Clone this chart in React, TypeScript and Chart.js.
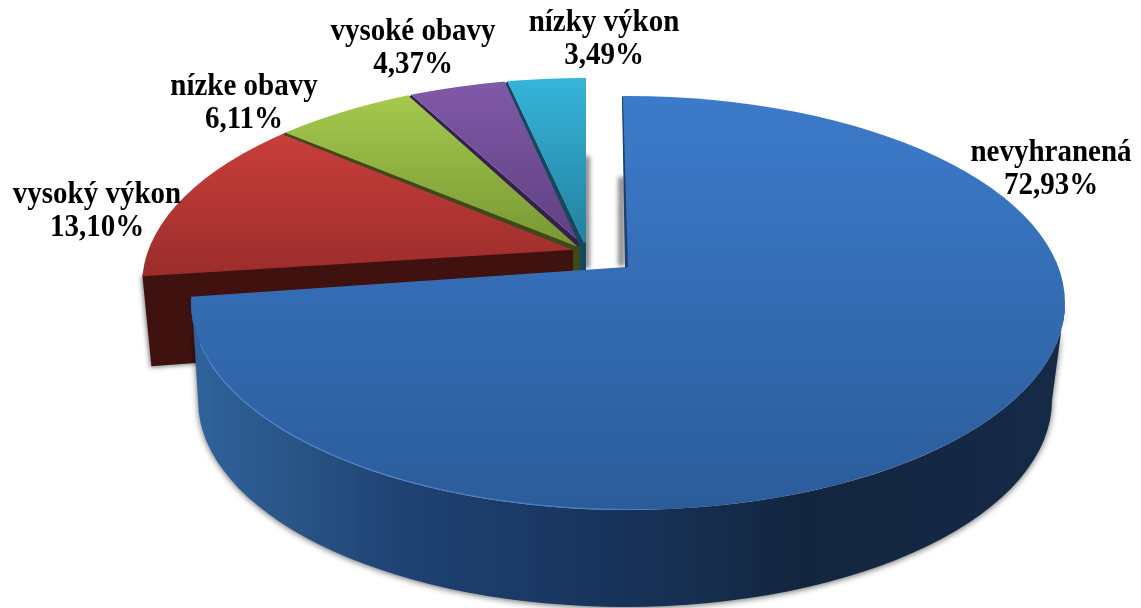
import React, { useEffect, useRef } from "react";
import { Chart, ArcElement, PieController } from "chart.js";

Chart.register(ArcElement, PieController);

const categories = ["nevyhranená", "vysoký výkon", "nízke obavy", "vysoké obavy", "nízky výkon"];
const shares = [72.93, 13.1, 6.11, 4.37, 3.49];

const W = 1141;
const H = 608;
const SX = 2.3;
const SY = 2.3 * 0.47;
const faceTop = ["#3C7BCB", "#C83E3B", "#A3C84C", "#8059A8", "#36B5DA"];
const faceBottom = ["#2B5C9A", "#9B2D2B", "#789834", "#5E4080", "#22809E"];
const gradY = [[97, 510], [137, 275], [100, 245], [82, 245], [78, 245]];
const bandColors = ["", "", "#3A4A18", "#35204F", "#14485C"];
const labelPos = [[1051, 153], [97, 195], [244, 87], [413, 32], [604, 23]];

const bigLayout = { ax: 627, ay: 267, cx: 628, cy: 303, a: 437, b: 207, shear: 0.058 };
const smallLayout = { ax: 586, ay: 247, cx: 586, cy: 285, a: 444, b: 207, shear: 0 };
const redLayout = { ...smallLayout, ay: 249 };
const greenLayout = { ...smallLayout, ay: 250 };
const layouts = [bigLayout, redLayout, greenLayout, smallLayout, smallLayout];
const layoutOf = (i: number) => layouts[i];

function edgePoint(angle: number, l: any) {
  const dx = Math.cos(angle) * SX + l.shear * Math.sin(angle) * SY;
  const dy = Math.sin(angle) * SY;
  const px = (l.ax - l.cx) / l.a, py = (l.ay - l.cy) / l.b;
  const qx = dx / l.a, qy = dy / l.b;
  const A = qx * qx + qy * qy;
  const B = 2 * (px * qx + py * qy);
  const C = px * px + py * py - 1;
  const t = (-B + Math.sqrt(B * B - 4 * A * C)) / (2 * A);
  return [l.ax + dx * t, l.ay + dy * t];
}

function poly(ctx: CanvasRenderingContext2D, pts: number[][], fill: any) {
  ctx.beginPath();
  pts.forEach((p, i) => (i ? ctx.lineTo(p[0], p[1]) : ctx.moveTo(p[0], p[1])));
  ctx.closePath();
  ctx.fillStyle = fill;
  ctx.fill();
}

function sideShadow(ctx: CanvasRenderingContext2D, x: number, y0: number, w: number, y1: number) {
  ctx.save();
  ctx.filter = "blur(2px)";
  ctx.fillStyle = "rgba(105,105,105,0.75)";
  ctx.fillRect(x, y0, w, y1 - y0);
  ctx.restore();
}

function drawFace(ctx: CanvasRenderingContext2D, elem: any, i: number) {
  const l = layoutOf(i);
  ctx.save();
  ctx.beginPath();
  ctx.ellipse(l.cx, l.cy, l.a, l.b, 0, 0, Math.PI * 2);
  ctx.clip();
  const mid = (elem.startAngle + elem.endAngle) / 2;
  const off = (i === 0 ? elem.options.offset : 0) / 4;
  const ou = Math.cos(mid) * off, ov = Math.sin(mid) * off;
  ctx.translate(l.ax - SX * ou - l.shear * SY * ov, l.ay - SY * ov);
  ctx.transform(SX, 0, l.shear * SY, SY, 0, 0);
  ctx.translate(-elem.x, -elem.y);
  elem.draw(ctx);
  ctx.restore();
}

const tiltPlugin = {
  id: "tilt",
  beforeDatasetsDraw(chart: any) {
    const ctx: CanvasRenderingContext2D = chart.ctx;
    const arcs = chart.getDatasetMeta(0).data;
    const big = bigLayout, small = smallLayout, red = redLayout;

    sideShadow(ctx, 583, 156, 7, 268);
    sideShadow(ctx, 618, 177, 7, 266);

    // exposed wall of the first small slice
    const p = edgePoint(arcs[1].startAngle, red);
    const t = red.ay - 13 * Math.tan(arcs[1].startAngle) * (SY / SX);
    ctx.save();
    ctx.shadowColor = "rgba(0,0,0,0.55)";
    ctx.shadowBlur = 5;
    ctx.shadowOffsetX = -1;
    ctx.shadowOffsetY = 1;
    poly(ctx, [[p[0], p[1] - 1], [red.ax - 13, t - 1], [red.ax - 13, t + 85], [p[0] + 9, p[1] + 90]], "#3F1210");
    ctx.restore();

    // small slice faces and their radial edges
    for (let i = 1; i < arcs.length; i++) {
      if (i > 1) {
        const l = layoutOf(i);
        const q = edgePoint(arcs[i].startAngle, l);
        if (i === 4) poly(ctx, [[q[0] - 6, q[1] - 4], [q[0] + 2, q[1] - 4], [q[0] + 3, q[1] + 8]], "#fff");
        poly(ctx, [q, [l.ax, l.ay], [l.ax - 4, l.ay + 3.5], [q[0] - 2, q[1] + 2]], bandColors[i]);
      }
      drawFace(ctx, arcs[i], i);
    }
    poly(ctx, [[small.ax - 13, small.ay + 1], [small.ax - 6, small.ay - 2], [small.ax - 6, small.ay + 28], [small.ax - 13, small.ay + 28]], bandColors[2]);
    poly(ctx, [[small.ax - 6, small.ay - 2], [small.ax, small.ay - 5], [small.ax, small.ay + 28], [small.ax - 6, small.ay + 28]], bandColors[4]);

    // outer wall of the large slice
    const e = edgePoint(arcs[0].endAngle, big);
    const tLeft = Math.PI + Math.asin((big.cy - e[1]) / big.b);
    const wall = ctx.createLinearGradient(198, 0, 1060, 0);
    wall.addColorStop(0, "#2F629C");
    wall.addColorStop(0.1, "#2A5688");
    wall.addColorStop(0.24, "#1F4272");
    wall.addColorStop(0.47, "#18345C");
    wall.addColorStop(0.7, "#13263F");
    wall.addColorStop(1, "#152A47");
    ctx.save();
    ctx.shadowColor = "rgba(0,0,0,0.6)";
    ctx.shadowBlur = 6;
    ctx.shadowOffsetY = 1;
    ctx.beginPath();
    ctx.ellipse(big.cx, big.cy, big.a, big.b, 0, tLeft, 0, true);
    ctx.lineTo(1052, 400);
    ctx.ellipse(625, 400, 427, 207, 0, 0, Math.PI * 0.98, false);
    ctx.closePath();
    ctx.fillStyle = wall;
    ctx.fill();
    ctx.restore();

    drawFace(ctx, arcs[0], 0);
    // narrow dark edge beside the top of the large slice
    poly(ctx, [[622, 97], [623, 97], [628, 267], [625, 268]], "#1F3F6E");

    // light rim along the near edge
    ctx.save();
    ctx.beginPath();
    ctx.ellipse(big.cx, big.cy, big.a - 0.5, big.b - 0.5, 0, Math.PI - 0.2, Math.PI / 2 - 0.05, true);
    ctx.strokeStyle = "rgba(95,150,225,0.55)";
    ctx.lineWidth = 1.2;
    ctx.stroke();
    ctx.restore();
    return false;
  },
  afterDraw(chart: any) {
    const ctx: CanvasRenderingContext2D = chart.ctx;
    ctx.fillStyle = "#000";
    ctx.textAlign = "center";
    ctx.textBaseline = "middle";
    ctx.font = 'bold 29px "Liberation Serif"';
    const put = (text: string, x: number, y: number) => {
      ctx.save();
      ctx.translate(x, y);
      ctx.scale(1, 1.1);
      ctx.fillText(text, 0, 0);
      ctx.restore();
    };
    categories.forEach((name, i) => {
      const [x, y] = labelPos[i];
      put(name, x, y);
      put(shares[i].toFixed(2).replace(".", ",") + "%", x, y + 33);
    });
  },
};

export default function App() {
  const ref = useRef<HTMLCanvasElement>(null);
  useEffect(() => {
    const chart = new Chart(ref.current as HTMLCanvasElement, {
      type: "pie",
      data: {
        labels: categories,
        datasets: [
          {
            data: shares,
            borderWidth: 0,
            offset: [95, 0, 0, 0, 0],
            backgroundColor: (c: any) => {
              const i = c.dataIndex;
              const area = c.chart.chartArea;
              if (!area) return faceTop[i];
              const l = layoutOf(i);
              const midY = (area.top + area.bottom) / 2;
              const toChart = (y: number) => midY + (y - l.ay) / SY;
              const g = c.chart.ctx.createLinearGradient(0, toChart(gradY[i][0]), 0, toChart(gradY[i][1]));
              g.addColorStop(0, faceTop[i]);
              g.addColorStop(1, faceBottom[i]);
              return g;
            },
          },
        ],
      },
      options: {
        animation: false,
        responsive: false,
        radius: "100%",
        layout: { padding: 0 },
      } as any,
      plugins: [tiltPlugin],
    });
    return () => chart.destroy();
  }, []);
  return (
    <div style={{ position: "absolute", left: 0, top: 0, width: W, height: H, overflow: "hidden", background: "#fff" }}>
      <canvas ref={ref} width={W} height={H} style={{ display: "block" }} />
    </div>
  );
}
